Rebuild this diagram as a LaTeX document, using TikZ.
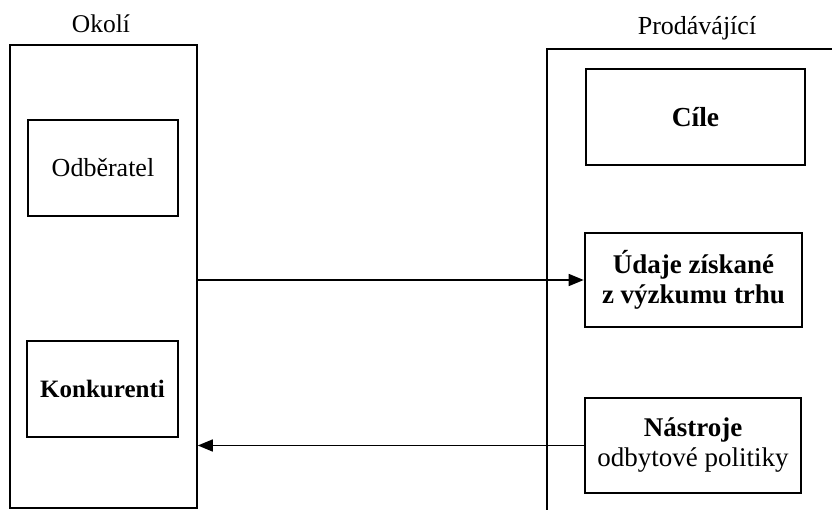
\documentclass[tikz,border=0pt]{standalone}
\usepackage{fontspec}
\setmainfont{Liberation Serif}
\usetikzlibrary{arrows.meta}
\begin{document}
\begin{tikzpicture}[x=1pt, y=-1pt,
    frame/.style={draw, line width=1.6pt, inner sep=0pt},
    item/.style={draw, line width=1.6pt, inner sep=0pt, align=center, font=\fontsize{26}{29}\selectfont},
    flow/.style={line width=1.5pt, -{Triangle[length=15pt, width=12pt]}}]
    \useasboundingbox (0,0) rectangle (832,510);

    % Define the frames
    \node[frame, minimum width=187pt, minimum height=463pt] (okoli) at (103.5,276.5) {};
    \node[frame, minimum width=400pt, minimum height=600pt] (prodejce) at (747,349) {};
    \node[font=\fontsize{25.5}{28}\selectfont] (okolilabel) at (101,24) {Okolí};
    \node[font=\fontsize{26}{29}\selectfont] (prodejcelabel) at (697,28) {Prodávájící};

    % Left column
    \node[item, minimum width=150pt, minimum height=96pt] (odberatel) at (103,168) {Odběratel};
    \node[item, font=\fontsize{25}{28}\selectfont, minimum width=151pt, minimum height=96pt] (konkurenti) at (102.5,389) {\bfseries Konkurenti};

    % Right column
    \node[item, font=\fontsize{27.5}{30}\selectfont, minimum width=219pt, minimum height=96pt] (cile) at (695.5,117) {\bfseries Cíle};
    \node[item, font=\fontsize{27}{30}\selectfont, line width=2.6pt, minimum width=217pt, minimum height=94pt] (udaje) at (693.5,280) {\bfseries Údaje získané\\\bfseries z výzkumu trhu};
    \node[item, font=\fontsize{27}{30}\selectfont, line width=1.1pt, minimum width=216pt, minimum height=95pt] (nastroje) at (693,445.5) {\bfseries Nástroje\\odbytové politiky};

    % Draw arrows
    \draw[flow] (udaje.west -| okoli.east) -- (udaje.west);
    \draw[flow] (nastroje.west) -- (nastroje.west -| okoli.east);
\end{tikzpicture}
\end{document}
